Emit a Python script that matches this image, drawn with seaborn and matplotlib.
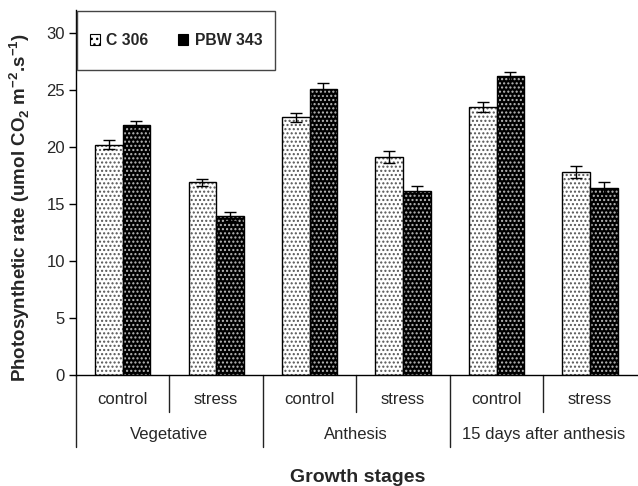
import matplotlib.pyplot as plt
import matplotlib.patches as mpatches
import pandas as pd
import seaborn as sns

sns.set_theme(style="white")
plt.rcParams["font.family"] = ["Liberation Sans", "DejaVu Sans"]
plt.rcParams["mathtext.fontset"] = "custom"
plt.rcParams["mathtext.rm"] = "Liberation Sans"
plt.rcParams["mathtext.bf"] = "Liberation Sans:bold"
plt.rcParams["hatch.linewidth"] = 1.0

# data
stages = ["Vegetative", "Anthesis", "15 days after anthesis"]
treatments = ["control", "stress"]
c306 = [20.2, 16.9, 22.6, 19.1, 23.5, 17.8]
c306_err = [0.4, 0.3, 0.4, 0.5, 0.4, 0.5]
pbw343 = [21.9, 13.9, 25.1, 16.1, 26.2, 16.4]
pbw343_err = [0.4, 0.4, 0.5, 0.5, 0.4, 0.5]
varieties = ["C 306", "PBW 343"]

cats = [f"{s}|{t}" for s in stages for t in treatments]
df = pd.DataFrame({
    "cat": cats * 2,
    "variety": [varieties[0]] * 6 + [varieties[1]] * 6,
    "rate": c306 + pbw343,
    "err": c306_err + pbw343_err,
})

fig = plt.figure(figsize=(6.38, 4.86), dpi=100)
ax = fig.add_axes([0.119, 0.2284, 0.879, 0.751])

sns.barplot(data=df, x="cat", y="rate", hue="variety", order=cats,
            hue_order=varieties, palette=["white", "black"], width=0.59,
            errorbar=None, legend=False, ax=ax)

# hatch styling: dots drawn in the edge colour, then an outline on top
styles = {0: ("white", "#555555"), 1: ("black", "#bbbbbb")}
bars = [p for p in ax.patches if isinstance(p, mpatches.Rectangle)][:12]
for i, p in enumerate(bars):
    face, dots = styles[i // 6]
    p.set_facecolor(face)
    p.set_edgecolor(dots)
    p.set_hatch("....")
    p.set_linewidth(0)
    ax.add_patch(mpatches.Rectangle((p.get_x(), p.get_y()), p.get_width(),
                                    p.get_height(), fill=False,
                                    edgecolor="black", linewidth=1.0, zorder=3))
    xc = p.get_x() + p.get_width() / 2
    ax.errorbar(xc, p.get_height(), yerr=df["err"].iloc[i], color="black",
                capsize=4.5, elinewidth=1.0, capthick=1.0, zorder=4)

ax.set_ylim(0, 32)
ax.set_xlim(-0.5, len(cats) - 0.5)
ax.set_yticks(range(0, 31, 5))
ax.tick_params(axis="y", which="major", left=True, length=5, width=1,
               labelsize=12, pad=3, color="black")
ax.tick_params(axis="x", length=0, labelbottom=False)
ax.set_xlabel("")
for side in ["top", "right"]:
    ax.spines[side].set_visible(False)
for side in ["left", "bottom"]:
    ax.spines[side].set_color("black")
    ax.spines[side].set_linewidth(1.0)

# hierarchical category axis
tr = ax.get_xaxis_transform()
for i, c in enumerate(cats):
    ax.text(i, -0.068, c.split("|")[1], transform=tr, ha="center",
            va="center", fontsize=12)
for k, s in enumerate(stages):
    ax.text(2 * k + 0.5, -0.164, s, transform=tr, ha="center",
            va="center", fontsize=12)
for k in range(len(stages)):
    ax.plot([2 * k + 0.5] * 2, [0, -0.101], transform=tr, color="#222222",
            lw=1.0, clip_on=False)
    ax.plot([2 * k - 0.5] * 2, [0, -0.197], transform=tr, color="#222222",
            lw=1.0, clip_on=False)

ax.set_ylabel(r"Photosynthetic rate (umol CO$_\mathbf{2}$ m$^\mathbf{-2}$.s$^\mathbf{-1}$)",
              fontsize=13.5, fontweight="bold")
ax.yaxis.set_label_coords(-0.078, 0.46)
fig.text(0.56, 0.017, "Growth stages", ha="center", va="center",
         fontsize=14, fontweight="bold")

# legend box drawn as a plain frame, entries centred inside it
frame = mpatches.Rectangle((0.002, 0.836), 0.353, 0.161, transform=ax.transAxes,
                           facecolor="white", edgecolor="#444444",
                           linewidth=1.0, zorder=5, clip_on=False)
ax.add_patch(frame)
handles = [mpatches.Patch(facecolor=styles[j][0], edgecolor="black",
                          hatch="...", linewidth=0.8) for j in range(2)]
leg = ax.legend(handles, varieties, loc="center",
                bbox_to_anchor=(0.002 + 0.353 / 2, 0.836 + 0.161 / 2),
                ncol=2, frameon=False, borderpad=0, handlelength=0.65,
                handleheight=0.65, handletextpad=0.4, columnspacing=1.9,
                prop={"weight": "bold", "size": 11.3}, borderaxespad=0)
leg.set_zorder(6)

fig.savefig("out.png", dpi=100)
